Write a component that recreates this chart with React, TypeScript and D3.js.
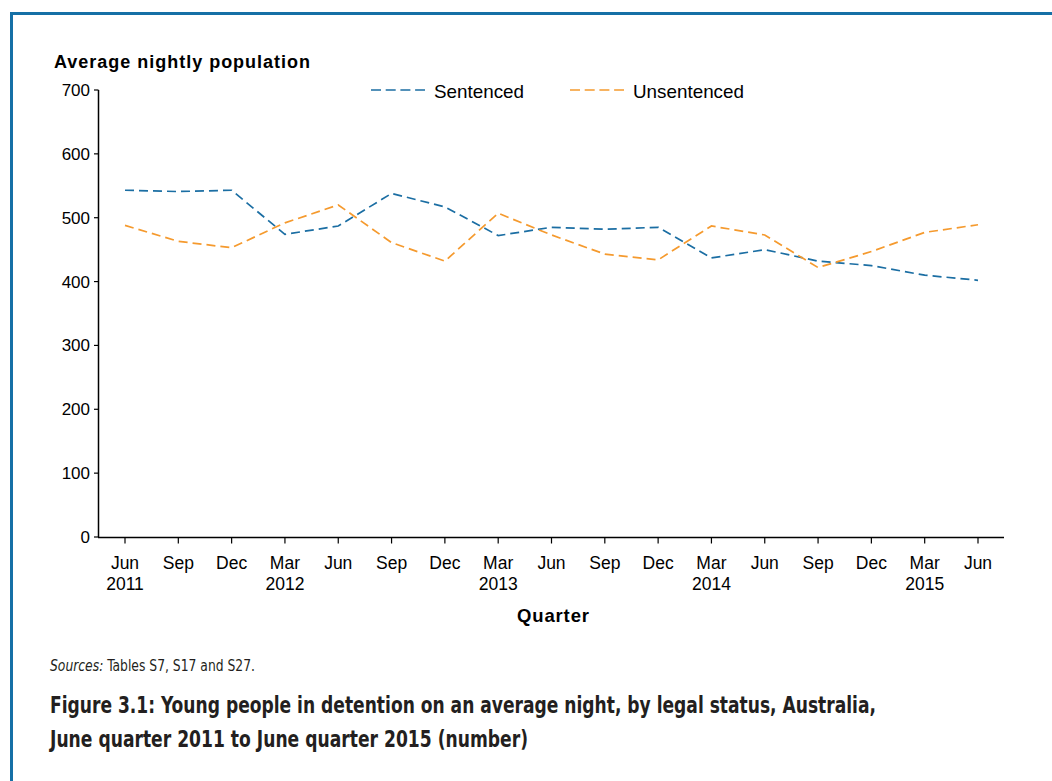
import React, { useEffect, useRef } from "react";
import * as d3 from "d3";

const quarters = ["Jun", "Sep", "Dec", "Mar", "Jun", "Sep", "Dec", "Mar", "Jun", "Sep", "Dec", "Mar", "Jun", "Sep", "Dec", "Mar", "Jun"];
const years = ["2011", "", "", "2012", "", "", "", "2013", "", "", "", "2014", "", "", "", "2015", ""];
const sentenced = [543, 541, 543, 474, 487, 538, 517, 472, 485, 482, 485, 437, 450, 432, 425, 410, 402];
const unsentenced = [488, 463, 453, 492, 520, 461, 432, 507, 473, 443, 434, 487, 473, 422, 447, 477, 489];
const yTicks = [0, 100, 200, 300, 400, 500, 600, 700];

const BLUE = "#1b6ea3";
const ORANGE = "#f59a2e";

export default function App() {
  const ref = useRef<SVGSVGElement>(null);

  useEffect(() => {
    const svg = d3.select(ref.current);
    svg.selectAll("*").remove();

    const font = "Liberation Sans, Arial, sans-serif";
    const x = d3.scaleLinear().domain([0, quarters.length - 1]).range([125, 978]);
    const y = d3.scaleLinear().domain([0, 700]).range([537, 90]);

    // border
    svg.append("path").attr("d", "M11.5,781 V13.5 H1052").attr("fill", "none").attr("stroke", "#1570a6").attr("stroke-width", 3);

    // y axis
    const g = svg.append("g");
    g.append("line").attr("x1", 98.5).attr("x2", 98.5).attr("y1", y(700)).attr("y2", y(0)).attr("stroke", "#000").attr("stroke-width", 1.5);
    yTicks.forEach((t) => {
      g.append("line").attr("x1", 94).attr("x2", 98.5).attr("y1", y(t)).attr("y2", y(t)).attr("stroke", "#000").attr("stroke-width", 1.2);
      g.append("text").attr("x", 90).attr("y", y(t) + 6).attr("text-anchor", "end")
        .attr("font-family", font).attr("font-size", 17).attr("fill", "#000").text(String(t));
    });

    // x axis
    g.append("line").attr("x1", 98).attr("x2", 1004).attr("y1", 537.5).attr("y2", 537.5).attr("stroke", "#000").attr("stroke-width", 1.5);
    quarters.forEach((q, i) => {
      g.append("line").attr("x1", x(i)).attr("x2", x(i)).attr("y1", 537.5).attr("y2", 543.5).attr("stroke", "#000").attr("stroke-width", 1.2);
      g.append("text").attr("x", x(i)).attr("y", 569).attr("text-anchor", "middle")
        .attr("font-family", font).attr("font-size", 17.5).attr("fill", "#000").text(q);
      if (years[i]) {
        g.append("text").attr("x", x(i)).attr("y", 590).attr("text-anchor", "middle")
          .attr("font-family", font).attr("font-size", 17.5).attr("fill", "#000").text(years[i]);
      }
    });

    // axis titles
    svg.append("text").attr("x", 54).attr("y", 68).attr("font-family", font).attr("font-size", 18)
      .attr("font-weight", "bold").attr("fill", "#000").attr("textLength", 256).attr("lengthAdjust", "spacing")
      .text("Average nightly population");
    svg.append("text").attr("x", 517).attr("y", 622).attr("font-family", font)
      .attr("font-size", 18.5).attr("font-weight", "bold").attr("fill", "#000").attr("textLength", 72).attr("lengthAdjust", "spacing")
      .text("Quarter");

    // lines
    const line = d3.line<number>().x((_, i) => x(i)).y((d) => y(d));
    svg.append("path").datum(sentenced).attr("d", line).attr("fill", "none").attr("stroke", BLUE)
      .attr("stroke-width", 1.7).attr("stroke-dasharray", "9,5");
    svg.append("path").datum(unsentenced).attr("d", line).attr("fill", "none").attr("stroke", ORANGE)
      .attr("stroke-width", 1.7).attr("stroke-dasharray", "9,5");

    // legend
    const legend = [
      { label: "Sentenced", color: BLUE, x0: 371, w: 90 },
      { label: "Unsentenced", color: ORANGE, x0: 570, w: 111 },
    ];
    legend.forEach((l) => {
      svg.append("line").attr("x1", l.x0).attr("x2", l.x0 + 54).attr("y1", 90).attr("y2", 90)
        .attr("stroke", l.color).attr("stroke-width", 1.6).attr("stroke-dasharray", "10,4.7");
      svg.append("text").attr("x", l.x0 + 63).attr("y", 98).attr("font-family", font).attr("font-size", 18.5)
        .attr("fill", "#000").attr("textLength", l.w).attr("lengthAdjust", "spacingAndGlyphs").text(l.label);
    });

    // caption
    const cap = "DejaVu Sans Condensed, Liberation Sans Narrow, sans-serif";
    const src = svg.append("text").attr("x", 50).attr("y", 671).attr("font-family", cap).attr("font-size", 15).attr("fill", "#231f20")
      .attr("textLength", 205).attr("lengthAdjust", "spacingAndGlyphs");
    src.append("tspan").attr("font-style", "italic").text("Sources:");
    src.append("tspan").text(" Tables S7, S17 and S27.");
    svg.append("text").attr("x", 50).attr("y", 713).attr("font-family", cap).attr("font-size", 22.5).attr("font-weight", "bold")
      .attr("fill", "#231f20").attr("textLength", 826).attr("lengthAdjust", "spacingAndGlyphs")
      .text("Figure 3.1: Young people in detention on an average night, by legal status, Australia,");
    svg.append("text").attr("x", 50).attr("y", 747).attr("font-family", cap).attr("font-size", 22.5).attr("font-weight", "bold")
      .attr("fill", "#231f20").attr("textLength", 478).attr("lengthAdjust", "spacingAndGlyphs")
      .text("June quarter 2011 to June quarter 2015 (number)");
  }, []);

  return (
    <svg ref={ref} width={1052} height={781} style={{ position: "absolute", left: 0, top: 0, background: "#fff" }} />
  );
}
